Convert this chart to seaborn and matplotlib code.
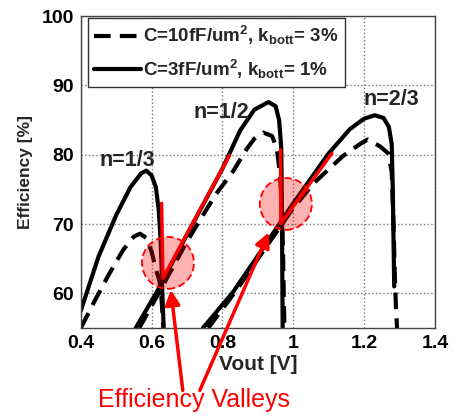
import matplotlib
matplotlib.use("Agg")
import matplotlib.pyplot as plt
from matplotlib.patches import Ellipse
import seaborn as sns

# curve data (Vout [V], efficiency [%])
n13_solid_x = [0.40, 0.45, 0.50, 0.54, 0.57, 0.585, 0.60, 0.612, 0.62, 0.625, 0.628, 0.631, 0.634]
n13_solid_y = [57.5, 65.3, 71.3, 75.3, 77.3, 77.7, 77.0, 75.3, 72.0, 68.0, 64.0, 59.0, 55.0]
n13_dash_x = [0.40, 0.44, 0.48, 0.52, 0.55, 0.567, 0.585, 0.60, 0.612, 0.622, 0.627, 0.630, 0.633]
n13_dash_y = [55.0, 59.0, 62.8, 66.3, 68.2, 68.6, 68.0, 66.0, 63.5, 61.8, 60.0, 57.5, 55.0]

n12_solid_x = [0.555, 0.618, 0.70, 0.80, 0.85, 0.89, 0.93, 0.95, 0.96, 0.966, 0.968, 0.969, 0.970]
n12_solid_y = [55.0, 60.5, 68.5, 78.0, 83.5, 86.5, 87.6, 87.0, 85.0, 81.0, 72.0, 63.0, 55.0]
n12_dash_x = [0.565, 0.625, 0.70, 0.78, 0.83, 0.868, 0.89, 0.915, 0.94, 0.953, 0.962, 0.968, 0.971, 0.973, 0.975]
n12_dash_y = [55.0, 60.5, 67.5, 74.2, 77.6, 80.8, 82.3, 83.2, 82.7, 81.0, 77.5, 72.0, 66.0, 60.0, 55.0]

n23_solid_x = [0.745, 0.83, 0.925, 1.00, 1.05, 1.10, 1.16, 1.20, 1.23, 1.255, 1.27, 1.278, 1.281, 1.283, 1.285]
n23_solid_y = [55.0, 60.2, 67.3, 73.0, 76.6, 80.2, 83.7, 85.2, 85.7, 85.3, 84.0, 81.5, 75.0, 68.0, 61.0]
n23_dash_x = [0.76, 0.84, 0.93, 1.00, 1.06, 1.14, 1.19, 1.21, 1.245, 1.268, 1.278, 1.283, 1.287, 1.290, 1.293]
n23_dash_y = [55.0, 60.5, 67.2, 72.3, 76.0, 79.8, 81.6, 82.2, 81.2, 80.2, 77.5, 70.0, 62.0, 58.0, 55.0]

# red valley markers
red1_x = [0.628, 0.632, 0.820]
red1_y = [73.0, 62.2, 79.9]
red2_x = [0.964, 0.965, 1.109]
red2_y = [80.7, 70.1, 80.2]
valley_centers = [(0.646, 64.4), (0.979, 72.9)]
arrow_tips = [(0.654, 60.5), (0.931, 68.8)]
arrow_tails = [(0.688, 46.0), (0.736, 46.0)]

labels = ["n=1/3", "n=1/2", "n=2/3"]
label_pos = [(0.530, 79.2), (0.798, 86.1), (1.276, 87.9)]
legend_labels = [r"C=10fF/um$^{2}$, k$_{bott}$= 3%", r"C=3fF/um$^{2}$, k$_{bott}$= 1%"]

sns.set_style("white")
plt.rcParams["font.family"] = ["Liberation Sans", "DejaVu Sans"]
plt.rcParams["mathtext.fontset"] = "custom"
plt.rcParams["mathtext.rm"] = "Liberation Sans:bold"
plt.rcParams["mathtext.it"] = "Liberation Sans:bold"
plt.rcParams["mathtext.bf"] = "Liberation Sans:bold"

fig = plt.figure(figsize=(4.54, 4.17), dpi=100)
ax = fig.add_axes([0.178, 0.2134, 0.78, 0.748])

dash = (4, 2.2)
curves = [
    (n13_dash_x, n13_dash_y, True), (n13_solid_x, n13_solid_y, False),
    (n12_dash_x, n12_dash_y, True), (n12_solid_x, n12_solid_y, False),
    (n23_dash_x, n23_dash_y, True), (n23_solid_x, n23_solid_y, False),
]
for cx, cy, dashed in curves:
    sns.lineplot(x=cx, y=cy, sort=False, estimator=None, color="black", lw=3, ax=ax)
    if dashed:
        ax.lines[-1].set_dashes(dash)

sns.lineplot(x=red1_x, y=red1_y, sort=False, estimator=None, color="red", lw=2.5, ax=ax, zorder=4)
sns.lineplot(x=red2_x, y=red2_y, sort=False, estimator=None, color="red", lw=2.5, ax=ax, zorder=4)

for c in valley_centers:
    ax.add_patch(Ellipse(c, 0.147, 7.5, facecolor=(1, 0, 0, 0.3), edgecolor="red",
                         lw=1.3, ls=(0, (4, 2)), zorder=5))

for tip, tail in zip(arrow_tips, arrow_tails):
    ax.annotate("", xy=tip, xytext=tail, annotation_clip=False,
                arrowprops=dict(arrowstyle="-|>", color="red", lw=2.5,
                                mutation_scale=22, shrinkA=0, shrinkB=0))

for t, (px, py) in zip(labels, label_pos):
    ax.text(px, py, t, ha="center", va="center", fontsize=15.5, fontweight="bold")

ax.set_xlim(0.4, 1.4)
ax.set_ylim(55, 100)
ax.set_xticks([0.4, 0.6, 0.8, 1.0, 1.2, 1.4])
ax.set_xticklabels(["0.4", "0.6", "0.8", "1", "1.2", "1.4"])
ax.set_yticks([60, 70, 80, 90, 100])
ax.tick_params(direction="in", length=3, labelsize=14, pad=5, colors="black")
for lab in ax.get_xticklabels() + ax.get_yticklabels():
    lab.set_fontweight("bold")
ax.grid(True, ls=":", color="#777777", lw=1)
for s in ax.spines.values():
    s.set_color("#444444")
    s.set_linewidth(1)

ax.set_xlabel("Vout [V]", fontsize=15, fontweight="bold", labelpad=2)
ax.set_ylabel("Efficiency [%]", fontsize=12.5, fontweight="bold", labelpad=6)

h_dash = plt.Line2D([], [], color="black", lw=3, dashes=dash)
h_solid = plt.Line2D([], [], color="black", lw=3)
leg = ax.legend([h_dash, h_solid], legend_labels, loc="upper left",
                bbox_to_anchor=(0.02, 0.995), fancybox=False, framealpha=1,
                edgecolor="#333333", handlelength=2.5, handletextpad=0.1,
                borderpad=0.35, labelspacing=0.55, borderaxespad=0,
                prop={"size": 13.5, "weight": "bold"})
leg.get_frame().set_linewidth(1)

fig.text(194 / 454, 1 - 400 / 417, "Efficiency Valleys", color="red", fontsize=18,
         ha="center", va="center")

fig.savefig("out.png", dpi=100)
